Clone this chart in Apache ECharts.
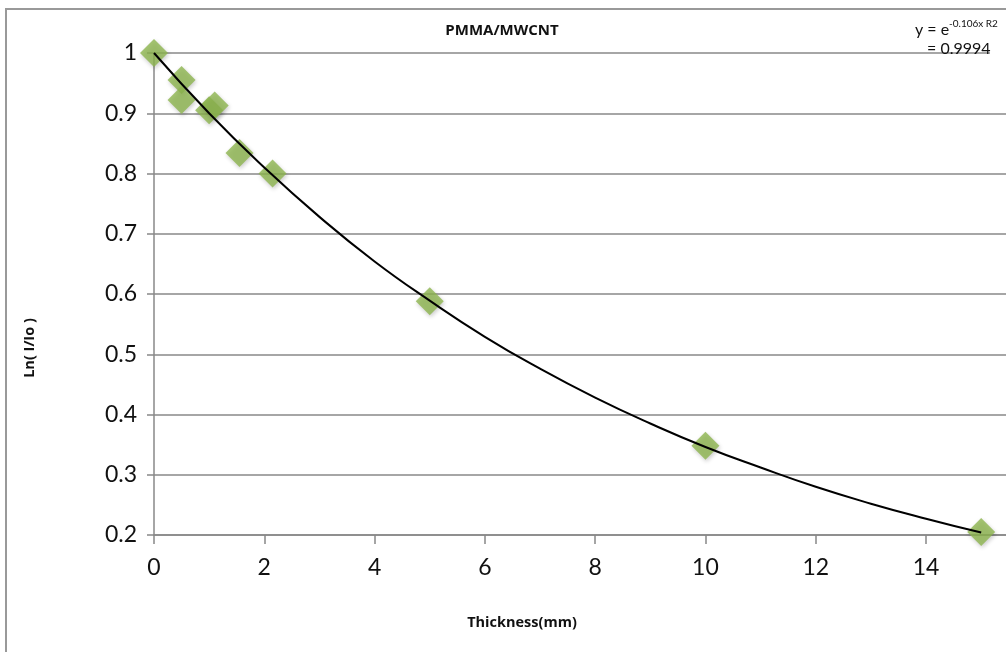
<!DOCTYPE html>
<html><head><meta charset="utf-8">
<script src="https://cdn.jsdelivr.net/npm/echarts@6/dist/echarts.min.js"></script>
<style>html,body{margin:0;padding:0;background:#fff}#c{width:1006px;height:652px}</style>
</head><body><div id="c"></div>
<script>
const thickness = [0, 0.5, 0.5, 1.0, 1.1, 1.55, 2.15, 5, 10, 15];
const lnRatio = [1.0, 0.955, 0.922, 0.905, 0.913, 0.834, 0.80, 0.588, 0.348, 0.205];
const trendX = [0, 1, 2, 3, 4, 5, 6, 7, 8, 9, 10, 11, 12, 13, 14, 15];
const trendY = [1.0, 0.90, 0.81, 0.728, 0.654, 0.589, 0.529, 0.476, 0.428, 0.385, 0.346, 0.312, 0.280, 0.252, 0.227, 0.204];
const xTicks = [0, 2, 4, 6, 8, 10, 12, 14];
const yTicks = [0.2, 0.3, 0.4, 0.5, 0.6, 0.7, 0.8, 0.9, 1];

const font = 'Lato, "Open Sans", sans-serif';
const bfont = '"Open Sans", Lato, sans-serif';
const chart = echarts.init(document.getElementById('c'));
chart.setOption({
  animation: false,
  backgroundColor: '#fff',
  grid: { left: 154, top: 53, right: 0, bottom: 117, containLabel: false, outerBoundsMode: 'none' },
  xAxis: {
    type: 'value', min: 0, max: 15.45, interval: 2,
    axisLine: { show: true, lineStyle: { color: '#888', width: 1.5 } },
    axisTick: { show: true, length: 9, lineStyle: { color: '#888', width: 1.5 } },
    axisLabel: { fontFamily: font, fontSize: 23, color: '#111', margin: 21, showMaxLabel: false,
      formatter: v => xTicks.includes(v) ? String(v) : '' },
    splitLine: { show: false }
  },
  yAxis: {
    type: 'value', min: 0.2, max: 1, interval: 0.1,
    axisLine: { show: true, lineStyle: { color: '#888', width: 1.5 } },
    axisTick: { show: true, length: 7, lineStyle: { color: '#888', width: 1.5 } },
    axisLabel: { fontFamily: font, fontSize: 23, color: '#111', margin: 17,
      formatter: v => { const r = Math.round(v * 10) / 10; return yTicks.includes(r) ? String(r) : ''; } },
    splitLine: { show: true, lineStyle: { color: '#888', width: 1.5 } }
  },
  graphic: [
    { type: 'rect', shape: { x: 6, y: 9, width: 1100, height: 1000 }, style: { fill: 'none', stroke: '#999', lineWidth: 2 }, z: -1 },
    { type: 'rect', shape: { x: 990, y: 49, width: 20, height: 8 }, style: { fill: '#fff' }, z: 50 },
    { type: 'text', x: 502, y: 31, style: { text: 'PMMA/MWCNT', fontFamily: bfont, fontWeight: 'bold', fontSize: 15, fill: '#111', align: 'center', verticalAlign: 'middle' } },
    { type: 'text', x: 522, y: 623, style: { text: 'Thickness(mm)', fontFamily: bfont, fontWeight: 'bold', fontSize: 14.5, fill: '#111', align: 'center', verticalAlign: 'middle' } },
    { type: 'text', x: 30, y: 348, rotation: Math.PI / 2, style: { text: 'Ln( I/Io )', fontFamily: bfont, fontWeight: 'bold', fontSize: 14.5, fill: '#111', align: 'center', verticalAlign: 'middle' } },
    { type: 'text', x: 915, y: 30, style: { text: 'y = e', fontFamily: font, fontSize: 16, fill: '#111', align: 'left', verticalAlign: 'middle' }, z: 60 },
    { type: 'text', x: 949, y: 24, style: { text: '-0.106x R2', fontFamily: font, fontSize: 10, fill: '#111', align: 'left', verticalAlign: 'middle' }, z: 60 },
    { type: 'text', x: 927, y: 49, style: { text: '= 0.9994', fontFamily: font, fontSize: 16, fill: '#111', align: 'left', verticalAlign: 'middle' }, z: 60 }
  ],
  series: [
    {
      type: 'line', data: trendX.map((x, i) => [x, trendY[i]]), smooth: true, showSymbol: false,
      lineStyle: { color: '#000', width: 2 }, z: 3
    },
    {
      type: 'scatter', data: thickness.map((x, i) => [x, lnRatio[i]]),
      symbol: 'diamond', symbolSize: [28, 28],
      itemStyle: { color: '#8db54f', shadowColor: 'rgba(0,0,0,0.25)', shadowBlur: 4, shadowOffsetX: 1, shadowOffsetY: 2 }, z: 2
    }
  ]
});
</script></body></html>
